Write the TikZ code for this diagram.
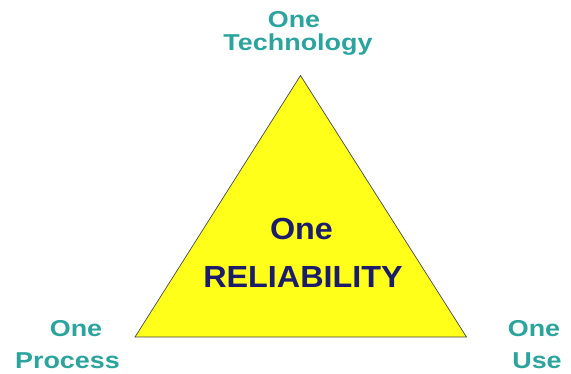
\documentclass[tikz,border=0pt]{standalone}
\usepackage{fontspec}
\setmainfont{Liberation Sans}
\newfontfamily\lblfont[FakeStretch=1.17]{Liberation Sans}
\newfontfamily\ctrfont[FakeStretch=1.06]{Liberation Sans}
\definecolor{tealtxt}{RGB}{44,164,158}
\definecolor{navytxt}{RGB}{28,28,108}
\definecolor{triyellow}{RGB}{255,255,26}
\definecolor{triedge}{RGB}{70,70,80}
\tikzset{
  lbl/.style={anchor=base,inner sep=0pt,text=tealtxt,font=\lblfont\bfseries\fontsize{23}{23}\selectfont},
  ctr/.style={anchor=base,inner sep=0pt,text=navytxt,font=\ctrfont\bfseries\fontsize{30.5}{30.5}\selectfont},
  tri/.style={fill=triyellow,draw=triedge,line width=0.7pt,line join=miter}
}
\begin{document}
\begin{tikzpicture}[x=1pt,y=-1pt]
\useasboundingbox (0,0) rectangle (571,373);
\coordinate (apex) at (300.5,75.5);
\coordinate (bl) at (135,337);
\coordinate (br) at (466.5,337);
\draw[tri] (apex) -- (bl) -- (br) -- cycle;
\node[lbl] (t1) at (294,27) {One};
\node[lbl] (t2) at (298,50) {Technology};
\node[lbl] (p1) at (76,336) {One};
\node[lbl] (p2) at (67.5,368) {Process};
\node[lbl] (u1) at (534,336) {One};
\node[lbl] (u2) at (537,368) {Use};
\node[ctr] (c1) at (301.5,239) {One};
\node[ctr] (c2) at (303,287) {RELIABILITY};
\end{tikzpicture}
\end{document}
